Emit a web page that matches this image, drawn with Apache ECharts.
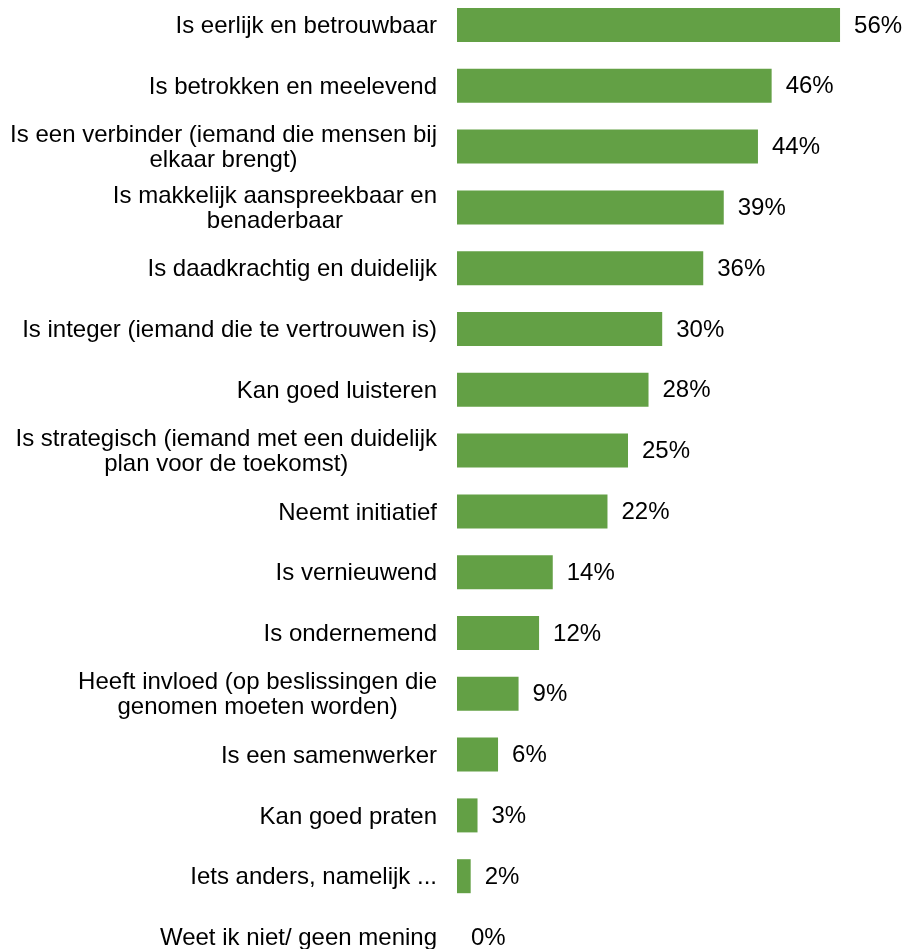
<!DOCTYPE html>
<html>
<head>
<meta charset="utf-8">
<script src="https://cdn.jsdelivr.net/npm/echarts@6/dist/echarts.min.js"></script>
<style>
html,body{margin:0;padding:0;background:#fff;overflow:hidden;}
#chart{width:909px;height:990px;margin-top:-6px;}
</style>
</head>
<body>
<div id="chart"></div>
<script>
const categories = [
  "Is eerlijk en betrouwbaar",
  "Is betrokken en meelevend",
  "Is een verbinder (iemand die mensen bij\nelkaar brengt)",
  "Is makkelijk aanspreekbaar en\nbenaderbaar",
  "Is daadkrachtig en duidelijk",
  "Is integer (iemand die te vertrouwen is)",
  "Kan goed luisteren",
  "Is strategisch (iemand met een duidelijk\nplan voor de toekomst)",
  "Neemt initiatief",
  "Is vernieuwend",
  "Is ondernemend",
  "Heeft invloed (op beslissingen die\ngenomen moeten worden)",
  "Is een samenwerker",
  "Kan goed praten",
  "Iets anders, namelijk ...",
  "Weet ik niet/ geen mening"
];
const values = [56, 46, 44, 39, 36, 30, 28, 25, 22, 14, 12, 9, 6, 3, 2, 0];

const FONT = "'Liberation Sans', Arial, sans-serif";
const chart = echarts.init(document.getElementById('chart'));
chart.setOption({
  animation: false,
  backgroundColor: '#ffffff',
  grid: { left: 457, width: 410.4, top: 0.6, height: 972.8, containLabel: false },
  xAxis: { type: 'value', min: 0, max: 60, show: false },
  yAxis: {
    type: 'category', data: categories, inverse: true,
    axisLine: { show: false }, axisTick: { show: false },
    axisLabel: {
      margin: 20, align: 'right', padding: [3, 0, 0, 0],
      formatter: v => v.split('\n').map(l => '{c|' + l + '}').join('\n'),
      rich: {
        c: { align: 'center', color: '#000', fontFamily: FONT, fontSize: 24, lineHeight: 25 }
      }
    }
  },
  series: [{
    type: 'bar', data: values, barWidth: 34,
    itemStyle: { color: '#63A045' },
    label: {
      show: true, position: 'right', distance: 14,
      formatter: '{c}%', color: '#000',
      fontFamily: FONT, fontSize: 24, offset: [0, 1]
    }
  }]
});
</script>
</body>
</html>
